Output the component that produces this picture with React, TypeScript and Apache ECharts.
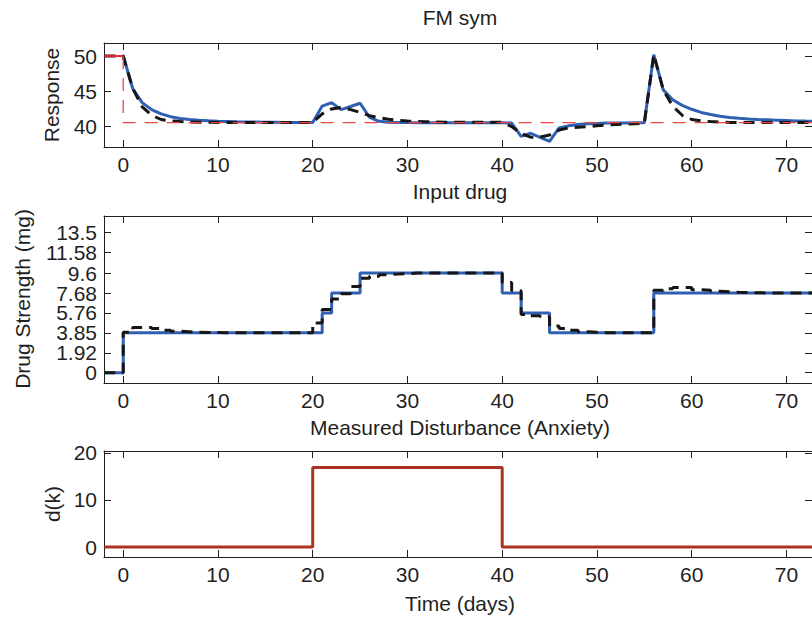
import React, { useEffect, useRef } from "react";
import * as echarts from "echarts";

// ---------- data ----------
const xTicks = [0, 10, 20, 30, 40, 50, 60, 70];
const responseTicks = [40, 45, 50];
const doseTicks = [0, 1.92, 3.85, 5.76, 7.68, 9.6, 11.58, 13.5];
const disturbanceTicks = [0, 10, 20];

// Response (measured, blue) daily from day 0
const responseMeasuredStart = 0;
const responseMeasured = [
  50, 45.4, 43.4, 42.4, 41.8, 41.4, 41.15, 41.0, 40.9, 40.82,
  40.76, 40.72, 40.68, 40.65, 40.63, 40.61, 40.6, 40.59, 40.58, 40.57,
  40.56, 42.9, 43.4, 42.4, 42.85, 43.3, 41.3, 40.75, 40.62, 40.58,
  40.56, 40.55, 40.55, 40.55, 40.55, 40.55, 40.55, 40.55, 40.55, 40.55,
  40.55, 40.5, 38.6, 39.05, 38.45, 37.9, 39.8, 40.1, 40.3, 40.4,
  40.45, 40.5, 40.5, 40.52, 40.54, 40.55, 50.2, 45.2, 43.8, 43.0,
  42.45, 42.0, 41.7, 41.45, 41.3, 41.18, 41.08, 41.0, 40.95, 40.9,
  40.85, 40.8, 40.77, 40.75,
];

// Response (model prediction, black dashed) daily from day -2
const responsePredictedStart = -2;
const responsePredicted = [
  50, 50, 50, 45.4, 42.8, 41.6, 41.0, 40.8, 40.7, 40.65,
  40.62, 40.6, 40.58, 40.57, 40.57, 40.57, 40.57, 40.57, 40.57, 40.57,
  40.57, 40.57, 40.57, 41.8, 42.5, 42.7, 42.4, 42.0, 41.55, 41.25,
  41.05, 40.9, 40.8, 40.72, 40.68, 40.65, 40.62, 40.6, 40.6, 40.6,
  40.6, 40.6, 40.6, 40.0, 39.0, 38.5, 38.5, 38.8, 39.5, 39.8,
  39.9, 40.0, 40.1, 40.2, 40.3, 40.35, 40.4, 40.45, 50.2, 45.2,
  42.9, 41.6, 41.0, 40.8, 40.7, 40.62, 40.58, 40.56, 40.56, 40.56,
  40.56, 40.56, 40.56, 40.56, 40.56, 40.56,
];

// Setpoint (red)
const setpointPrevTimes = [-2, 0];
const setpointPrevValues = [50, 50];
const setpointTimes = [0, 0, 73];
const setpointValues = [50, 40.55, 40.55];

// Drug strength (blue stairs)
const doseTimes = [-2, 0, 21, 22, 25, 40, 42, 45, 56, 73];
const doseValues = [0, 3.85, 5.76, 7.68, 9.6, 7.68, 5.76, 3.85, 7.68, 7.68];

// Drug strength predicted (black dashed stairs) daily from day -2
const dosePredictedStart = -2;
const dosePredicted = [
  0, 0, 3.9, 4.35, 4.35, 4.25, 4.1, 4.0, 3.95, 3.9,
  3.88, 3.87, 3.86, 3.86, 3.86, 3.86, 3.86, 3.86, 3.86, 3.86,
  3.86, 3.86, 4.8, 6.1, 7.1, 7.6, 8.3, 9.1, 9.3, 9.45,
  9.5, 9.55, 9.6, 9.6, 9.6, 9.6, 9.6, 9.6, 9.6, 9.6,
  9.6, 9.6, 8.7, 7.9, 5.6, 5.5, 5.4, 4.5, 4.25, 4.1,
  3.95, 3.9, 3.86, 3.86, 3.86, 3.86, 3.86, 3.86, 7.95, 8.1,
  8.2, 8.2, 8.0, 7.95, 7.85, 7.8, 7.75, 7.72, 7.7, 7.69,
  7.69, 7.69, 7.69, 7.69, 7.69, 7.69,
];

// Measured disturbance (anxiety)
const disturbanceTimes = [-2, 20, 40, 73];
const disturbanceValues = [0, 16.9, 0, 0];

// ---------- styling ----------
const FONT = "'Liberation Sans', Arial, Helvetica, sans-serif";
const AX = "#1f1f1f";
const FS = 21;
const X_MIN = -2.03;
const X_MAX = 72.7;
const GRID_LEFT = 104;
const GRID_RIGHT = -4;

const grids = [
  { top: 43, height: 104 },
  { top: 216, height: 167 },
  { top: 451, height: 106 },
];
const yRanges = [
  { min: 37.1, max: 51.85, ticks: responseTicks },
  { min: -0.99, max: 15.1, ticks: doseTicks },
  { min: -2.1, max: 20.4, ticks: disturbanceTicks },
];

function pairs(start: number, vals: number[]) {
  return vals.map((v, i) => [start + i, v]);
}
function zip(ts: number[], vs: number[]) {
  return ts.map((t, i) => [t, vs[i]]);
}

function buildOption() {
  const xAxis: any[] = [];
  const yAxis: any[] = [];
  const labelBase = {
    show: true, fontSize: FS, lineHeight: 18, color: AX, fontFamily: FONT,
    showMinLabel: true, showMaxLabel: true, hideOverlap: false,
  };
  grids.forEach((_, gi) => {
    const xb = {
      type: "value",
      gridIndex: gi,
      min: X_MIN,
      max: X_MAX,
      axisLine: { show: true, onZero: false, lineStyle: { color: AX, width: 1 } },
      axisTick: { show: true, inside: true, length: 7, customValues: xTicks, lineStyle: { color: AX, width: 1 } },
      splitLine: { show: false },
    };
    xAxis.push({
      ...xb,
      position: "bottom",
      axisLabel: { ...labelBase, customValues: xTicks, margin: 8 },
    });
    xAxis.push({ ...xb, position: "top", axisLabel: { show: false } });
    const r = yRanges[gi];
    const yb = {
      type: "value",
      gridIndex: gi,
      min: r.min,
      max: r.max,
      axisLine: { show: true, onZero: false, lineStyle: { color: AX, width: 1 } },
      axisTick: { show: true, inside: true, length: 7, customValues: r.ticks, lineStyle: { color: AX, width: 1 } },
      splitLine: { show: false },
    };
    // labels alternate between two coincident left axes so none get auto-hidden
    const evenTicks = r.ticks.filter((_, i) => i % 2 === 0);
    const oddTicks = r.ticks.filter((_, i) => i % 2 === 1);
    yAxis.push({
      ...yb,
      position: "left",
      axisLabel: { ...labelBase, customValues: evenTicks, margin: 7 },
    });
    yAxis.push({ ...yb, position: "right", axisLabel: { show: false } });
    yAxis.push({
      ...yb,
      position: "left",
      offset: 0,
      axisLine: { show: false },
      axisTick: { show: false },
      axisLabel: { ...labelBase, customValues: oddTicks, margin: 7 },
    });
  });

  const blue = "#3060b2";
  const black = "#161616";
  // y axis indices: grid gi primary left = gi*3
  const series: any[] = [
    {
      type: "line", xAxisIndex: 0, yAxisIndex: 0, symbol: "none",
      data: pairs(responseMeasuredStart, responseMeasured),
      lineStyle: { color: blue, width: 3 },
    },
    {
      type: "line", xAxisIndex: 0, yAxisIndex: 0, symbol: "none",
      data: pairs(responsePredictedStart, responsePredicted),
      lineStyle: { color: black, width: 3, type: [11, 7] },
    },
    {
      type: "line", xAxisIndex: 0, yAxisIndex: 0, symbol: "none",
      data: zip(setpointPrevTimes, setpointPrevValues),
      lineStyle: { color: "#e3262b", width: 2 },
    },
    {
      type: "line", xAxisIndex: 0, yAxisIndex: 0, symbol: "none",
      data: zip(setpointTimes, setpointValues),
      lineStyle: { color: "#ee4444", width: 1.3, type: [13, 9] },
    },
    {
      type: "line", xAxisIndex: 2, yAxisIndex: 3, symbol: "none", step: "end",
      data: zip(doseTimes, doseValues),
      lineStyle: { color: blue, width: 3 },
    },
    {
      type: "line", xAxisIndex: 2, yAxisIndex: 3, symbol: "none", step: "end",
      data: pairs(dosePredictedStart, dosePredicted),
      lineStyle: { color: black, width: 3, type: [11, 7] },
    },
    {
      type: "line", xAxisIndex: 4, yAxisIndex: 6, symbol: "none", step: "end",
      data: zip(disturbanceTimes, disturbanceValues),
      lineStyle: { color: "#ac3322", width: 3 },
    },
  ];

  const txt = (text: string, x: number, y: number, rot = 0) => ({
    type: "text",
    x,
    y,
    rotation: rot,
    style: {
      text,
      fill: AX,
      font: `${FS}px ${FONT}`,
      textAlign: "center",
      textVerticalAlign: "middle",
    },
  });

  return {
    animation: false,
    backgroundColor: "#ffffff",
    grid: grids.map((g) => ({ left: GRID_LEFT, right: GRID_RIGHT, top: g.top, height: g.height, containLabel: false })),
    xAxis,
    yAxis,
    series,
    graphic: [
      txt("FM sym", 460, 17),
      txt("Input drug", 460, 191),
      txt("Measured Disturbance (Anxiety)", 460, 427),
      txt("Time (days)", 460, 603),
      txt("Response", 51, 95, Math.PI / 2),
      txt("Drug Strength (mg)", 22, 299, Math.PI / 2),
      txt("d(k)", 52, 504, Math.PI / 2),
    ],
  };
}

export default function App() {
  const ref = useRef<HTMLDivElement>(null);
  useEffect(() => {
    if (!ref.current) return;
    const chart = echarts.init(ref.current, undefined, { renderer: "svg" });
    chart.setOption(buildOption() as any);
    return () => chart.dispose();
  }, []);
  return (
    <div
      ref={ref}
      style={{ position: "fixed", left: 0, top: 0, width: 812, height: 618, background: "#fff" }}
    />
  );
}
